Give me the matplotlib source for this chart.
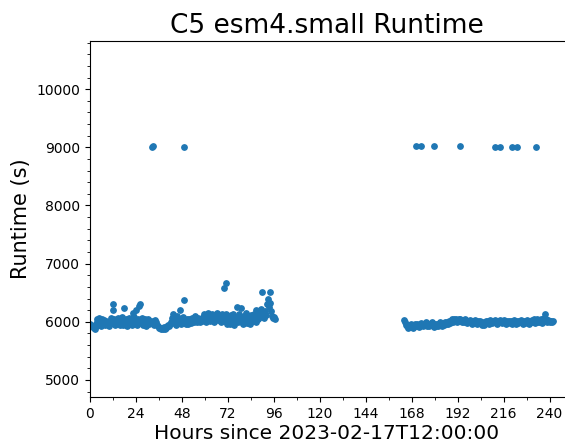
import matplotlib
matplotlib.use("Agg")
import matplotlib.pyplot as plt
from matplotlib.ticker import MultipleLocator

# Segment 1 (hours 0-97)
hours_a = [0.0, 0.5, 1.0, 1.5, 2.0, 2.5, 3.0, 3.3, 3.6, 4.0, 4.3, 4.6, 5.0, 5.3, 5.6, 6.0, 6.3, 6.6, 7.0, 7.3, 7.6, 8.0, 8.5, 9.0,
           10.0, 10.5, 11.0, 11.5, 12.0, 12.2, 12.5, 13.0, 13.5, 14.0, 14.5, 15.0, 15.5, 16.0, 16.5, 17.0, 17.5, 18.0, 18.3, 18.6,
           19.0, 19.5, 20.0, 20.5, 21.0, 21.5, 22.0, 22.5, 23.0, 23.5, 24.0, 24.5, 25.0, 25.5, 26.0, 26.5, 27.0, 27.5, 28.0, 28.5,
           29.0, 29.5, 30.0, 30.5, 31.0, 31.5, 32.0, 33.0, 33.5, 34.0, 34.5,
           35.0, 35.5, 36.0, 36.5, 37.0, 37.5, 38.0, 38.5, 39.0, 39.5, 40.0, 40.5, 41.0, 41.5, 42.0, 42.5, 43.0, 43.5, 44.0, 44.5,
           45.0, 45.5, 46.0, 46.5, 47.0, 47.5, 48.0, 48.5, 49.0, 49.5, 50.0, 50.5, 51.0, 51.5, 52.0, 52.5, 53.0, 53.5, 54.0, 54.5,
           55.0, 55.5, 56.0, 56.5, 57.0, 57.5, 58.0, 58.5, 59.0, 59.5, 60.0, 60.5, 61.0, 61.5, 62.0, 62.5, 63.0, 63.5, 64.0, 64.5,
           65.0, 65.5, 66.0, 66.5, 67.0, 67.5, 68.0, 68.5, 69.0, 69.5, 70.0, 70.5, 71.0, 71.3, 71.6, 72.0,
           72.5, 73.0, 73.5, 74.0, 74.5, 75.0, 75.5, 76.0, 76.5, 77.0, 77.5, 78.0, 78.5, 79.0, 79.5, 80.0, 80.5, 81.0, 81.5, 82.0,
           82.5, 83.0, 83.5, 84.0, 84.5, 85.0, 85.5, 86.0, 86.5, 87.0, 87.5, 88.0, 88.5, 89.0, 89.5, 90.0, 90.5, 91.0, 91.5, 92.0,
           92.5, 93.0, 93.5, 94.0, 94.3, 94.6, 95.0, 95.5, 96.0, 96.5]
runtime_a = [5960, 5940, 5930, 5910, 5900, 5880, 5920, 5960, 6000, 6040, 5990, 5950, 6060, 6020, 5970, 5920, 6050, 6000, 5960, 6030, 5990, 5940, 6010, 5970,
             5930, 6000, 6060, 5980, 6200, 6300, 6050, 5950, 6010, 5960, 6070, 5990, 5940, 6030, 5980, 6080, 5950, 6230, 6010, 5960,
             6050, 5930, 6000, 6060, 5970, 6020, 5940, 6150, 6080, 5990, 6210, 5950, 6040, 6280, 6300, 5980, 6060, 5940, 6010, 5970,
             6050, 5930, 6000, 6040, 5960, 6020, 5980, 6010, 5950, 6030, 5990,
             5950, 5920, 5900, 5890, 5880, 5900, 5880, 5910, 5890, 5870, 5900, 5930, 5950, 5920, 5960, 6000, 6060, 6140, 5980, 6020,
             5950, 6100, 6000, 6050, 6200, 5970, 6030, 6080, 6370, 6000, 5960, 6040, 6000, 5970, 6050, 6010, 5980, 6060, 6020, 5990,
             6100, 6040, 6000, 6070, 6030, 5990, 6050, 6010, 6080, 6140, 6040, 6000, 6090, 6160, 6050, 6110, 6020, 6080, 6130, 6060,
             6000, 6120, 6070, 6150, 6030, 6100, 6060, 5990, 6140, 6080, 6580, 6020, 6670, 6130, 5960, 6090,
             6040, 5970, 6110, 6060, 6000, 6130, 5950, 6080, 6030, 6250, 5990, 6140, 6060, 6240, 6000, 5960, 6100, 6050, 6150, 5980,
             6090, 6030, 5970, 6120, 6060, 6010, 6140, 6080, 6200, 5990, 6100, 6040, 6160, 6080, 6220, 6510, 6130, 6060, 6190, 6120,
             6300, 6400, 6250, 6510, 6330, 6180, 6100, 6060, 6080, 6050]

# Segment 2 (hours 164-242)
hours_b = [164.0, 164.5, 165.0, 165.5, 166.0, 166.5, 167.0, 167.5, 168.0, 168.5, 169.0, 169.5, 170.0, 170.5, 171.0, 171.5,
           172.0, 172.5, 173.0, 173.5, 174.0, 174.5, 175.0, 175.5, 176.0, 176.5, 177.0, 177.5, 178.0, 178.5, 179.0, 179.5,
           180.0, 180.5, 181.0, 181.5, 182.0, 182.5, 183.0, 183.5, 184.0, 184.5, 185.0, 185.5, 186.0, 186.5, 187.0, 187.5,
           188.0, 188.5, 189.0, 189.5, 190.0, 190.5, 191.0, 191.5, 192.0, 192.5, 193.0, 193.5, 194.0, 194.5, 195.0, 195.5,
           196.0, 196.5, 197.0, 197.5, 198.0, 198.5, 199.0, 199.5, 200.0, 200.5, 201.0, 201.5, 202.0, 202.5, 203.0, 203.5,
           204.0, 204.5, 205.0, 205.5, 206.0, 206.5, 207.0, 207.5, 208.0, 208.5, 209.0, 209.5, 210.0, 210.5, 211.0, 211.5,
           212.0, 212.5, 213.0, 213.5, 214.0, 214.5, 215.0, 215.5, 216.0, 216.5, 217.0, 217.5, 218.0, 218.5, 219.0, 219.5,
           220.0, 220.5, 221.0, 221.5, 222.0, 222.5, 223.0, 223.5, 224.0, 224.5, 225.0, 225.5, 226.0, 226.5, 227.0, 227.5,
           228.0, 228.5, 229.0, 229.5, 230.0, 230.5, 231.0, 231.5, 232.0, 232.5, 233.0, 233.5, 234.0, 234.5, 235.0, 235.5,
           236.0, 236.5, 237.0, 237.5, 238.0, 238.5, 239.0, 239.5, 240.0, 240.5, 241.0, 241.5, 242.0]
runtime_b = [6030, 5990, 5950, 5920, 5900, 5940, 5910, 5960, 5930, 5900, 5950, 5920, 5960, 5930, 5970, 5940,
             5910, 5960, 5980, 5940, 5920, 5970, 5950, 5990, 5930, 5960, 5920, 5970, 5940, 5990, 5950, 5910,
             5960, 5930, 5970, 5940, 5920, 5960, 5990, 5950, 5930, 5970, 5940, 5990, 5960, 6000, 5970, 6010,
             5980, 6020, 6040, 6000, 6050, 6020, 6040, 6000, 6030, 6050, 6010, 6040, 6020, 5990, 6030, 6000,
             6040, 6010, 5980, 6020, 5990, 6030, 6000, 5970, 6020, 5990, 6030, 6000, 5960, 6010, 5980, 6020,
             5990, 5950, 6000, 5970, 5940, 5990, 6020, 5980, 6010, 5970, 6030, 6000, 5980, 6020, 5990, 6030,
             6000, 5970, 6010, 5990, 6030, 6000, 5980, 6020, 5990, 6030, 6000, 5970, 6010, 5990, 6020, 5980,
             6010, 5970, 6000, 6030, 5990, 5960, 6010, 5980, 6020, 5990, 6030, 6000, 5970, 6010, 5980, 6020,
             5990, 6030, 6000, 5970, 6010, 5990, 6030, 6000, 6040, 5980, 6010, 6050, 5990, 6020, 6000, 6040,
             5980, 6020, 6060, 6130, 6040, 6000, 6030, 6010, 6020, 5990, 6010, 6000, 6010]

# Slow runs near 9000 s
hours_out = [32.3, 32.9, 49.4, 170.2, 172.7, 179.8, 193.2, 211.8, 214.2, 220.5, 222.9, 233.0]
runtime_out = [9010, 9030, 9000, 9020, 9020, 9020, 9020, 9010, 9000, 9000, 9000, 9000]

hours = hours_a + hours_b + hours_out
runtime = runtime_a + runtime_b + runtime_out

fig = plt.figure(figsize=(5.65, 4.43), dpi=100)
ax = fig.add_axes([0.159, 0.1038, 0.839, 0.8036])
ax.scatter(hours, runtime, s=15, color="#1f77b4")

ax.set_xlim(0, 247.5)
ax.set_ylim(4707, 10828)
ax.xaxis.set_major_locator(MultipleLocator(24))
ax.xaxis.set_minor_locator(MultipleLocator(12))
ax.yaxis.set_major_locator(MultipleLocator(1000))
ax.yaxis.set_minor_locator(MultipleLocator(200))
ax.tick_params(labelsize=10)
ax.spines["right"].set_visible(False)

ax.set_title("C5 esm4.small Runtime", fontsize=19)
ax.set_xlabel("Hours since 2023-02-17T12:00:00", fontsize=14.5, labelpad=2)
ax.set_ylabel("Runtime (s)", fontsize=15)

fig.savefig("out.png", dpi=100)
